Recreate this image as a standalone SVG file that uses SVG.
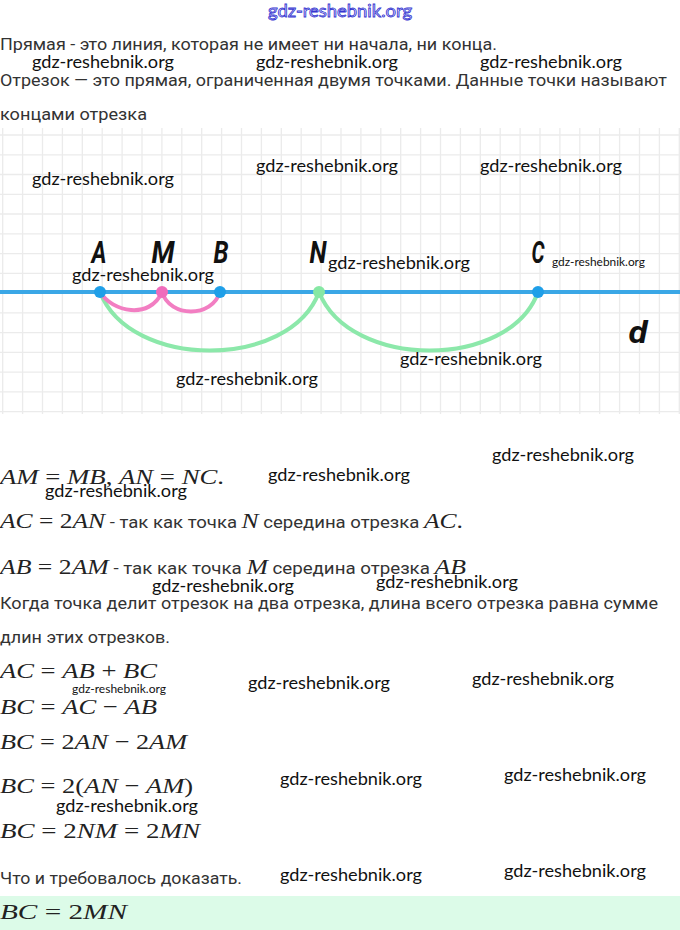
<svg xmlns="http://www.w3.org/2000/svg" width="680" height="930" viewBox="0 0 680 930">
<style>
.body{font-family:Roboto,"Liberation Sans",sans-serif;font-size:17px;fill:#333}
.math{font-family:"Liberation Serif",serif;font-size:22px;fill:#222}
.i{font-style:italic}
.sans{font-family:Roboto,"Liberation Sans",sans-serif;font-size:16px;fill:#333;font-style:normal}
.wm{font-family:Lato,"Open Sans",sans-serif;font-size:18px;fill:#111}
.wms{font-family:Lato,"Open Sans",sans-serif;font-size:12px;fill:#111}
.lbl{font-family:Roboto,"Liberation Sans",sans-serif;font-size:31px;font-weight:bold;font-style:italic;fill:#111}
.grid{stroke:#ebebeb;stroke-width:1.3;fill:none}
</style>
<rect width="680" height="930" fill="#fff"/>
<g id="top-watermark">
<text x="340" y="17" text-anchor="middle" font-family="Lato,'Open Sans',sans-serif" font-size="17" fill="#e8e8ff" stroke="#3535d0" stroke-width="0.8" textLength="144" lengthAdjust="spacingAndGlyphs">gdz-reshebnik.org</text>
</g>
<g id="intro-text">
<text class="body" x="0" y="50" textLength="497" lengthAdjust="spacingAndGlyphs">Прямая - это линия, которая не имеет ни начала, ни конца.</text>
<text class="body" x="0" y="86" textLength="667" lengthAdjust="spacingAndGlyphs">Отрезок — это прямая, ограниченная двумя точками. Данные точки называют</text>
<text class="body" x="0" y="120" textLength="147" lengthAdjust="spacingAndGlyphs">концами отрезка</text>
</g>
<g id="grid">
<path class="grid" d="M2.7 128V414M22.6 128V414M42.5 128V414M62.4 128V414M82.3 128V414M102.2 128V414M122.1 128V414M142 128V414M161.9 128V414M181.8 128V414M201.7 128V414M221.6 128V414M241.5 128V414M261.4 128V414M281.3 128V414M301.2 128V414M321.1 128V414M341 128V414M360.9 128V414M380.8 128V414M400.7 128V414M420.6 128V414M440.5 128V414M460.4 128V414M480.3 128V414M500.2 128V414M520.1 128V414M540 128V414M559.9 128V414M579.8 128V414M599.7 128V414M619.6 128V414M639.5 128V414M659.4 128V414M679.3 128V414"/>
<path class="grid" d="M0 135H680M0 154.8H680M0 174.5H680M0 194.3H680M0 214H680M0 233.8H680M0 253.6H680M0 273.3H680M0 293.1H680M0 312.8H680M0 332.6H680M0 352.4H680M0 372.1H680M0 391.9H680M0 411.6H680"/>
</g>
<g id="line-d">
<line x1="0" y1="292" x2="680" y2="292" stroke="#3aa7e6" stroke-width="4"/>
</g>
<g id="connectors" fill="none" stroke-width="4" stroke-linecap="round">
<path d="M100 292C130 370 290 370 319 292" stroke="#8ce8aa"/>
<path d="M319 292C350 370 510 370 538 292" stroke="#8ce8aa"/>
<path d="M100 292C112 312 150 320 162 292" stroke="#f27ec2"/>
<path d="M162 292C170 318 212 318 220 292" stroke="#f27ec2"/>
</g>
<g id="point-A"><circle cx="100" cy="292" r="6" fill="#1f9fe8"/><text class="lbl" x="99" y="263" text-anchor="middle" textLength="15" lengthAdjust="spacingAndGlyphs">A</text></g>
<g id="point-M"><circle cx="162" cy="292" r="6" fill="#f06cbc"/><text class="lbl" x="163" y="263" text-anchor="middle" textLength="23" lengthAdjust="spacingAndGlyphs">M</text></g>
<g id="point-B"><circle cx="220" cy="292" r="6" fill="#1f9fe8"/><text class="lbl" x="221" y="263" text-anchor="middle" textLength="15" lengthAdjust="spacingAndGlyphs">B</text></g>
<g id="point-N"><circle cx="319" cy="292" r="6" fill="#86e8a4"/><text class="lbl" x="318" y="263" text-anchor="middle" textLength="17" lengthAdjust="spacingAndGlyphs">N</text></g>
<g id="point-C"><circle cx="538" cy="292" r="6" fill="#1f9fe8"/><text class="lbl" x="538" y="263" text-anchor="middle" textLength="13" lengthAdjust="spacingAndGlyphs">C</text></g>
<g id="label-d"><text class="lbl" x="638" y="343" text-anchor="middle" font-size="33" textLength="19" lengthAdjust="spacingAndGlyphs">d</text></g>
<g id="math">
<text class="math" x="0" y="484" textLength="224" lengthAdjust="spacingAndGlyphs"><tspan class="i">AM</tspan> = <tspan class="i">MB</tspan>, <tspan class="i">AN</tspan> = <tspan class="i">NC</tspan>.</text>
<text class="math" x="0" y="528" textLength="463" lengthAdjust="spacingAndGlyphs"><tspan class="i">AC</tspan> = 2<tspan class="i">AN</tspan><tspan class="sans"> - так как точка </tspan><tspan class="i">N</tspan><tspan class="sans"> середина отрезка </tspan><tspan class="i">AC</tspan>.</text>
<text class="math" x="0" y="574" textLength="466" lengthAdjust="spacingAndGlyphs"><tspan class="i">AB</tspan> = 2<tspan class="i">AM</tspan><tspan class="sans"> - так как точка </tspan><tspan class="i">M</tspan><tspan class="sans"> середина отрезка </tspan><tspan class="i">AB</tspan></text>
<text class="body" x="0" y="609" textLength="658" lengthAdjust="spacingAndGlyphs">Когда точка делит отрезок на два отрезка, длина всего отрезка равна сумме</text>
<text class="body" x="0" y="643" textLength="170" lengthAdjust="spacingAndGlyphs">длин этих отрезков.</text>
<text class="math" x="0" y="678" textLength="157" lengthAdjust="spacingAndGlyphs"><tspan class="i">AC</tspan> = <tspan class="i">AB</tspan> + <tspan class="i">BC</tspan></text>
<text class="math" x="0" y="714" textLength="157" lengthAdjust="spacingAndGlyphs"><tspan class="i">BC</tspan> = <tspan class="i">AC</tspan> − <tspan class="i">AB</tspan></text>
<text class="math" x="0" y="749" textLength="187" lengthAdjust="spacingAndGlyphs"><tspan class="i">BC</tspan> = 2<tspan class="i">AN</tspan> − 2<tspan class="i">AM</tspan></text>
<text class="math" x="0" y="793" textLength="193" lengthAdjust="spacingAndGlyphs"><tspan class="i">BC</tspan> = 2(<tspan class="i">AN</tspan> − <tspan class="i">AM</tspan>)</text>
<text class="math" x="0" y="838" textLength="200" lengthAdjust="spacingAndGlyphs"><tspan class="i">BC</tspan> = 2<tspan class="i">NM</tspan> = 2<tspan class="i">MN</tspan></text>
<text class="body" x="0" y="884" textLength="242" lengthAdjust="spacingAndGlyphs">Что и требовалось доказать.</text>
</g>
<g id="answer">
<rect x="0" y="896" width="680" height="34" fill="#dcfbe8"/>
<text class="math" x="0" y="919" textLength="127" lengthAdjust="spacingAndGlyphs"><tspan class="i">BC</tspan> = 2<tspan class="i">MN</tspan></text>
</g>
<g id="watermarks">
<text class="wm" x="32" y="68" textLength="142" lengthAdjust="spacingAndGlyphs">gdz-reshebnik.org</text>
<text class="wm" x="256" y="68" textLength="142" lengthAdjust="spacingAndGlyphs">gdz-reshebnik.org</text>
<text class="wm" x="480" y="68" textLength="142" lengthAdjust="spacingAndGlyphs">gdz-reshebnik.org</text>
<text class="wm" x="32" y="185" textLength="142" lengthAdjust="spacingAndGlyphs">gdz-reshebnik.org</text>
<text class="wm" x="256" y="172" textLength="142" lengthAdjust="spacingAndGlyphs">gdz-reshebnik.org</text>
<text class="wm" x="480" y="172" textLength="142" lengthAdjust="spacingAndGlyphs">gdz-reshebnik.org</text>
<text class="wm" x="72" y="281" textLength="142" lengthAdjust="spacingAndGlyphs">gdz-reshebnik.org</text>
<text class="wm" x="328" y="269" textLength="142" lengthAdjust="spacingAndGlyphs">gdz-reshebnik.org</text>
<text class="wms" x="552" y="266" textLength="93" lengthAdjust="spacingAndGlyphs">gdz-reshebnik.org</text>
<text class="wm" x="400" y="365" textLength="142" lengthAdjust="spacingAndGlyphs">gdz-reshebnik.org</text>
<text class="wm" x="176" y="385" textLength="142" lengthAdjust="spacingAndGlyphs">gdz-reshebnik.org</text>
<text class="wm" x="492" y="461" textLength="142" lengthAdjust="spacingAndGlyphs">gdz-reshebnik.org</text>
<text class="wm" x="268" y="481" textLength="142" lengthAdjust="spacingAndGlyphs">gdz-reshebnik.org</text>
<text class="wm" x="45" y="497" textLength="142" lengthAdjust="spacingAndGlyphs">gdz-reshebnik.org</text>
<text class="wm" x="152" y="592" textLength="142" lengthAdjust="spacingAndGlyphs">gdz-reshebnik.org</text>
<text class="wm" x="376" y="588" textLength="142" lengthAdjust="spacingAndGlyphs">gdz-reshebnik.org</text>
<text class="wms" x="72" y="693" textLength="94" lengthAdjust="spacingAndGlyphs">gdz-reshebnik.org</text>
<text class="wm" x="248" y="689" textLength="142" lengthAdjust="spacingAndGlyphs">gdz-reshebnik.org</text>
<text class="wm" x="472" y="685" textLength="142" lengthAdjust="spacingAndGlyphs">gdz-reshebnik.org</text>
<text class="wm" x="280" y="785" textLength="142" lengthAdjust="spacingAndGlyphs">gdz-reshebnik.org</text>
<text class="wm" x="504" y="781" textLength="142" lengthAdjust="spacingAndGlyphs">gdz-reshebnik.org</text>
<text class="wm" x="56" y="812" textLength="142" lengthAdjust="spacingAndGlyphs">gdz-reshebnik.org</text>
<text class="wm" x="280" y="881" textLength="142" lengthAdjust="spacingAndGlyphs">gdz-reshebnik.org</text>
<text class="wm" x="504" y="877" textLength="142" lengthAdjust="spacingAndGlyphs">gdz-reshebnik.org</text>
</g>
</svg>
